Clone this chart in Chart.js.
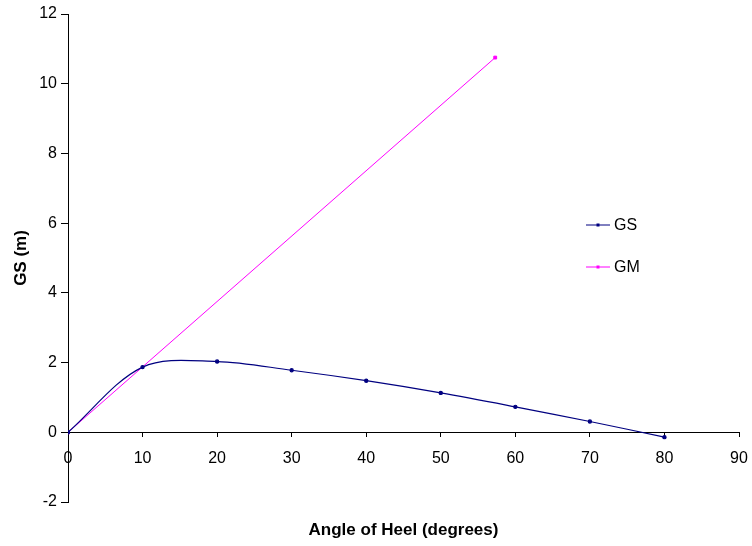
<!DOCTYPE html>
<html>
<head>
<meta charset="utf-8">
<script src="https://cdn.jsdelivr.net/npm/chart.js@4"></script>
<style>
  body { margin: 0; background: #fff; }
  canvas { display: block; }
</style>
</head>
<body>
<canvas id="gzChart" width="752" height="546"></canvas>
<script>
// heel angles (deg) and righting lever values
const angles = [0, 10, 20, 30, 40, 50, 60, 70, 80];
const gsValues = [0, 1.87, 2.03, 1.78, 1.48, 1.13, 0.73, 0.31, -0.14];
// initial GM line: GM plotted at 1 radian
const gmAngles = [0, 57.3];
const gmValues = [0, 10.75];
const xTicks = [0, 10, 20, 30, 40, 50, 60, 70, 80, 90];
const yTicks = [-2, 0, 2, 4, 6, 8, 10, 12];

const fontFamily = '"Liberation Sans", Arial, sans-serif';

// draws the x title under the plot and the floating legend
const extras = {
    id: 'extras',
    afterDraw(chart) {
        const ctx = chart.ctx;
        const area = chart.chartArea;
        ctx.save();
        ctx.fillStyle = '#000';
        ctx.font = 'bold 17px ' + fontFamily;
        ctx.textAlign = 'center';
        ctx.textBaseline = 'middle';
        ctx.fillText('Angle of Heel (degrees)', (area.left + area.right) / 2, 530);

        const rows = [225, 267];
        chart.data.datasets.forEach((ds, i) => {
            const y = rows[i];
            ctx.strokeStyle = ds.borderColor;
            ctx.lineWidth = 1;
            ctx.beginPath();
            ctx.moveTo(586, y);
            ctx.lineTo(610, y);
            ctx.stroke();
            ctx.fillStyle = ds.pointBackgroundColor;
            ctx.fillRect(596.5, y - 1.5, 3, 3);
            ctx.fillStyle = '#000';
            ctx.font = '16px ' + fontFamily;
            ctx.textAlign = 'left';
            ctx.fillText(ds.label, 614, y + 1);
        });
        ctx.restore();
    }
};

new Chart(document.getElementById('gzChart').getContext('2d'), {
    type: 'line',
    data: {
        datasets: [{
            label: 'GS',
            data: angles.map((a, i) => ({ x: a, y: gsValues[i] })),
            borderColor: '#000080',
            pointBackgroundColor: '#000080',
            pointBorderColor: '#000080',
            borderWidth: 1.2,
            pointRadius: 1.6,
            pointStyle: 'circle',
            tension: 0.33,
            fill: false
        }, {
            label: 'GM',
            data: gmAngles.map((a, i) => ({ x: a, y: gmValues[i] })),
            borderColor: '#ff00ff',
            pointBackgroundColor: '#ff00ff',
            pointBorderColor: '#ff00ff',
            borderWidth: 1,
            pointRadius: 2,
            pointStyle: 'rect',
            tension: 0,
            fill: false
        }]
    },
    options: {
        responsive: false,
        animation: false,
        layout: { padding: { top: 14, right: 13, bottom: 44, left: 0 } },
        plugins: {
            legend: { display: false },
            tooltip: { enabled: false }
        },
        scales: {
            x: {
                type: 'linear',
                position: { y: 0 },
                min: 0,
                max: 90,
                afterBuildTicks: s => { s.ticks = xTicks.map(v => ({ value: v })); },
                // end labels fit inside the layout padding
                afterFit: s => { s.paddingLeft = 0; s.paddingRight = 0; },
                ticks: {
                    color: '#000',
                    font: { family: fontFamily, size: 16 },
                    padding: 13,
                    maxRotation: 0
                },
                grid: { drawOnChartArea: false, drawTicks: true, tickLength: 4, color: '#000' },
                border: { color: '#000', width: 1 }
            },
            y: {
                type: 'linear',
                min: -2,
                max: 12,
                afterBuildTicks: s => { s.ticks = yTicks.map(v => ({ value: v })); },
                afterFit: s => { s.width = 68; },
                ticks: {
                    color: '#000',
                    font: { family: fontFamily, size: 16 },
                    padding: 4
                },
                title: {
                    display: true,
                    text: 'GS (m)',
                    color: '#000',
                    font: { family: fontFamily, size: 17, weight: 'bold' },
                    padding: { top: 11, bottom: 0 }
                },
                grid: { drawOnChartArea: false, drawTicks: true, tickLength: 7, color: '#000' },
                border: { color: '#000', width: 1 }
            }
        }
    },
    plugins: [extras]
});
</script>
</body>
</html>
